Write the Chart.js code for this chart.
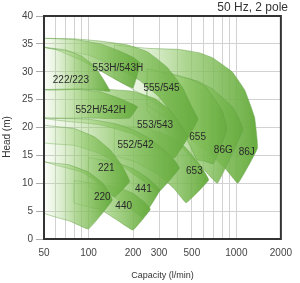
<!DOCTYPE html>
<html>
<head>
<meta charset="utf-8">
<script src="https://cdn.jsdelivr.net/npm/chart.js@4.4.0/dist/chart.umd.min.js"></script>
<style>
html, body { margin: 0; padding: 0; background: #fff; }
</style>
</head>
<body>
<canvas id="c" width="300" height="283"></canvas>
<script>
// axis values
const xLabels = [50, 100, 200, 300, 500, 1000, 2000];
const xGrid = [50, 60, 70, 80, 90, 100, 200, 300, 400, 500, 600, 700, 800, 900, 1000, 2000];
const yTicks = [0, 5, 10, 15, 20, 25, 30, 35, 40];

// pump ranges, [capacity l/min, head m] (outline clockwise)
const r86J = [[150,34.8],[250,34.2],[412,34.0],[560,33.4],[690,32.5],[936,30.0],[1140,26.7],[1327,21.9],[1390,16.3],[1025,10.0],[850,12.5],[650,15.5],[480,18.0],[300,24.0],[150,29.0]];
const r86G = [[250,30.5],[430,29.0],[550,28.3],[690,26.9],[936,23.8],[1050,21.5],[1106,19.5],[745,10.0],[600,12.5],[480,15.0],[350,19.0],[250,23.0]];
const r655 = [[250,30.5],[394,29.4],[500,28.6],[621,27.3],[800,23.1],[867,19.7],[700,13.5],[600,14.0],[540,14.2],[458,18.1],[350,21.5],[250,24.0]];
const r653 = [[150,20.5],[250,19.8],[350,18.5],[450,16.5],[560,13.5],[650,10.6],[458,6.5],[380,9.0],[300,11.5],[200,14.0],[150,15.0]];
const r555 = [[50,36.0],[80,35.9],[120,35.5],[184,34.8],[250,33.6],[338,30.9],[430,27.3],[500,23.7],[550,21.5],[470,18.2],[380,22.0],[300,25.5],[220,28.5],[150,31.0],[100,33.0],[50,34.4]];
const r553 = [[50,26.8],[120,26.9],[200,26.5],[280,25.2],[350,23.3],[420,20.5],[470,18.2],[380,14.5],[300,16.0],[200,18.8],[120,20.5],[50,21.7]];
const r552 = [[50,21.7],[100,21.5],[150,20.7],[200,19.6],[260,18.0],[330,15.8],[380,14.2],[412,12.7],[300,8.5],[230,10.5],[170,13.0],[120,15.3],[80,16.8],[50,17.3]];
const r441 = [[100,14.6],[150,13.8],[200,12.6],[250,11.0],[304,8.8],[232,3.9],[190,5.5],[150,7.5],[100,9.5]];
const r221 = [[50,20.4],[80,19.8],[110,18.3],[140,16.0],[170,13.0],[190,10.3],[150,7.5],[120,9.8],[90,12.0],[50,14.0]];
const r440 = [[80,10.5],[120,9.8],[160,9.2],[200,8.2],[240,6.6],[262,5.3],[200,1.6],[160,3.2],[122,5.2],[80,6.5]];
const r220 = [[50,13.8],[74,13.3],[100,12.0],[125,10.0],[145,7.0],[100,1.8],[75,3.2],[50,4.7]];
const r553H = [[50,36.0],[80,35.8],[120,35.0],[160,33.8],[200,32.6],[224,31.6],[200,27.1],[160,28.3],[120,30.2],[90,32.0],[60,34.0],[50,34.4]];
const r552H = [[50,26.8],[80,26.9],[120,26.4],[160,25.3],[195,24.3],[215,23.7],[190,21.7],[140,21.6],[100,21.7],[50,21.8]];
const r222 = [[50,34.4],[70,33.9],[90,32.8],[110,31.0],[125,28.8],[140,26.5],[120,26.6],[90,26.9],[50,26.8]];

// back to front
const ranges = [r86J, r86G, r655, r555, r653, r553, r552, r441, r440, r221, r220, r553H, r552H, r222];

const modelNames = ['222/223','553H/543H','555/545','552H/542H','553/543','655','552/542','86G','86J','221','653','441','220','440'];
const labelX = [76, 158, 312, 121, 282, 547, 208, 816, 1175, 132, 520, 235, 124, 173];
const labelY = [28.5, 30.7, 27.1, 23.1, 20.4, 18.3, 16.9, 16.0, 15.6, 12.7, 12.2, 9.0, 7.5, 5.9];

function regionFill(ctx) {
    const chart = ctx.chart;
    if (!chart.chartArea) return 'rgba(0,0,0,0)';
    const pts = chart.data.datasets[ctx.datasetIndex].data;
    const xs = chart.scales.x;
    let lo = Infinity, hi = -Infinity;
    pts.forEach(p => { lo = Math.min(lo, p.x); hi = Math.max(hi, p.x); });
    const g = chart.ctx.createLinearGradient(xs.getPixelForValue(lo), 0, xs.getPixelForValue(hi), 0);
    g.addColorStop(0, 'rgba(175,218,140,0.03)');
    g.addColorStop(0.5, 'rgba(138,196,98,0.7)');
    g.addColorStop(1, 'rgba(104,172,64,1)');
    return g;
}

const datasets = ranges.slice().reverse().map(r => {
    const pts = r.map(p => ({x: p[0], y: p[1]}));
    pts.push({x: r[0][0], y: r[0][1]});
    return {
        data: pts,
        showLine: true,
        fill: 'shape',
        tension: 0.08,
        pointRadius: 0,
        borderWidth: 1,
        borderColor: 'rgba(100,160,70,0.45)',
        backgroundColor: regionFill
    };
});

const extras = {
    id: 'extras',
    afterDraw(chart) {
        const c = chart.ctx;
        const a = chart.chartArea;
        const xs = chart.scales.x, ys = chart.scales.y;
        c.save();
        // model names
        c.fillStyle = '#2a2a2a';
        c.font = '10px "Liberation Sans", Arial, sans-serif';
        c.textAlign = 'center';
        c.textBaseline = 'middle';
        modelNames.forEach((n, i) => {
            c.fillText(n, xs.getPixelForValue(labelX[i]), ys.getPixelForValue(labelY[i]));
        });
        // frame
        c.strokeStyle = '#333';
        c.lineWidth = 2;
        c.strokeRect(a.left, a.top, a.right - a.left, a.bottom - a.top);
        // title
        c.fillStyle = '#333';
        c.font = '12px "Liberation Sans", Arial, sans-serif';
        c.textAlign = 'right';
        c.fillText('50 Hz, 2 pole', 288, 8);
        // y title
        c.font = '10px "Liberation Sans", Arial, sans-serif';
        c.textAlign = 'center';
        c.translate(7, 137);
        c.rotate(-Math.PI / 2);
        c.fillText('Head (m)', 0, 0);
        c.restore();
    }
};

new Chart(document.getElementById('c'), {
    type: 'scatter',
    data: { datasets: datasets },
    plugins: [extras],
    options: {
        responsive: false,
        animation: false,
        devicePixelRatio: 1,
        layout: { padding: { top: 16, right: 13, left: 0, bottom: 0 } },
        plugins: { legend: { display: false }, tooltip: { enabled: false } },
        scales: {
            x: {
                type: 'logarithmic',
                min: 50,
                max: 2000,
                afterBuildTicks: s => { s.ticks = xGrid.map(v => ({value: v})); },
                afterFit: s => { s.height = 44; },
                ticks: {
                    autoSkip: false,
                    maxRotation: 0,
                    padding: 8,
                    color: '#444',
                    font: { family: '"Liberation Sans", Arial, sans-serif', size: 10 },
                    callback: v => xLabels.includes(v) ? String(v) : ''
                },
                grid: { color: '#d2d2d2', drawTicks: false },
                border: { color: '#333', width: 2 },
                title: {
                    display: true,
                    text: 'Capacity (l/min)',
                    color: '#333',
                    font: { family: '"Liberation Sans", Arial, sans-serif', size: 9 },
                    padding: { top: 0, bottom: 2 }
                }
            },
            y: {
                min: 0,
                max: 40,
                afterBuildTicks: s => { s.ticks = yTicks.map(v => ({value: v})); },
                afterFit: s => { s.width = 44; },
                ticks: {
                    padding: 3,
                    color: '#444',
                    font: { family: '"Liberation Sans", Arial, sans-serif', size: 10 }
                },
                grid: { color: '#d2d2d2', tickColor: '#aaa', tickLength: 8 },
                border: { color: '#333', width: 2 }
            }
        }
    }
});
</script>
</body>
</html>
